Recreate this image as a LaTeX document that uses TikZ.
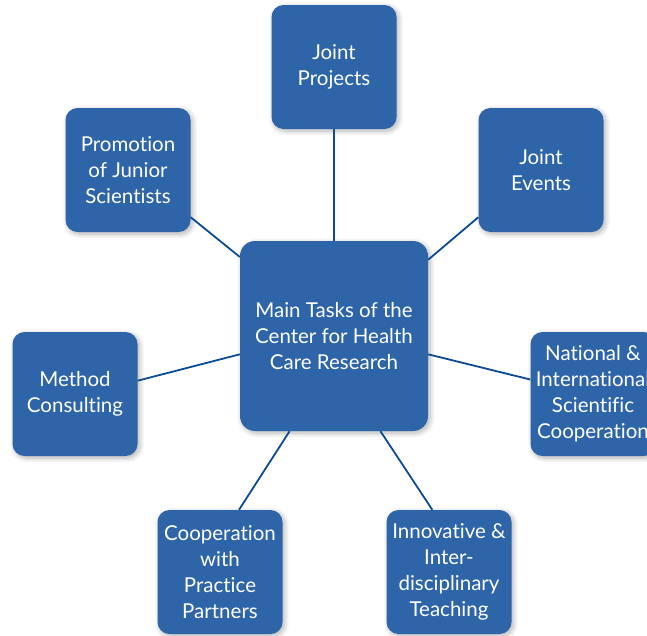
\documentclass[tikz,border=0pt]{standalone}
\usepackage{fontspec}
\setmainfont{Lato}[Ligatures=NoCommon]
\usetikzlibrary{shadows.blur}
\definecolor{boxblue}{HTML}{2E65A8}
\definecolor{linkblue}{HTML}{0A4B93}
\begin{document}
\begin{tikzpicture}[x=1pt,y=-1pt,
  task/.style={fill=boxblue, text=white, align=center, rounded corners=12pt,
    minimum width=125pt, minimum height=124pt, inner sep=0pt,
    font=\fontsize{20.5}{26}\selectfont,
    blur shadow={shadow xshift=2pt, shadow yshift=-2pt, shadow blur radius=5pt, shadow opacity=30, shadow blur steps=8}},
  maintask/.style={task, minimum width=188pt, minimum height=190pt, rounded corners=15pt},
  link/.style={draw=linkblue, line width=1.8pt}]
\useasboundingbox (0,0) rectangle (647,635);
\clip (0,0) rectangle (647,635);
\node[maintask] (main) at (334,336) {Main Tasks of the\\Center for Health\\Care Research};
\node[task] (jp) at (334,67) {Joint\\Projects};
\node[task] (je) at (541,170) {Joint\\Events};
\node[task] (prom) at (128,170) {Promotion\\of Junior\\Scientists};
\node[task] (meth) at (75,394) {Method\\Consulting};
\node[task] (nat) at (593,394) {National \&\\International\\Scientific\\Cooperation};
\node[task] (coop) at (220,572) {Cooperation\\with\\Practice\\Partners};
\node[task] (inn) at (449,572) {Innovative \&\\Inter-\\disciplinary\\Teaching};
\draw[link] (main.north) -- (jp.south);
\draw[link] (main.140) -- (prom.323);
\draw[link] (main.39) -- (je.217);
\draw[link] (main.191) -- (meth.12);
\draw[link] (main.349) -- (nat.167);
\draw[link] (main.245) -- (coop.73);
\draw[link] (main.296) -- (inn.105);
\end{tikzpicture}
\end{document}
